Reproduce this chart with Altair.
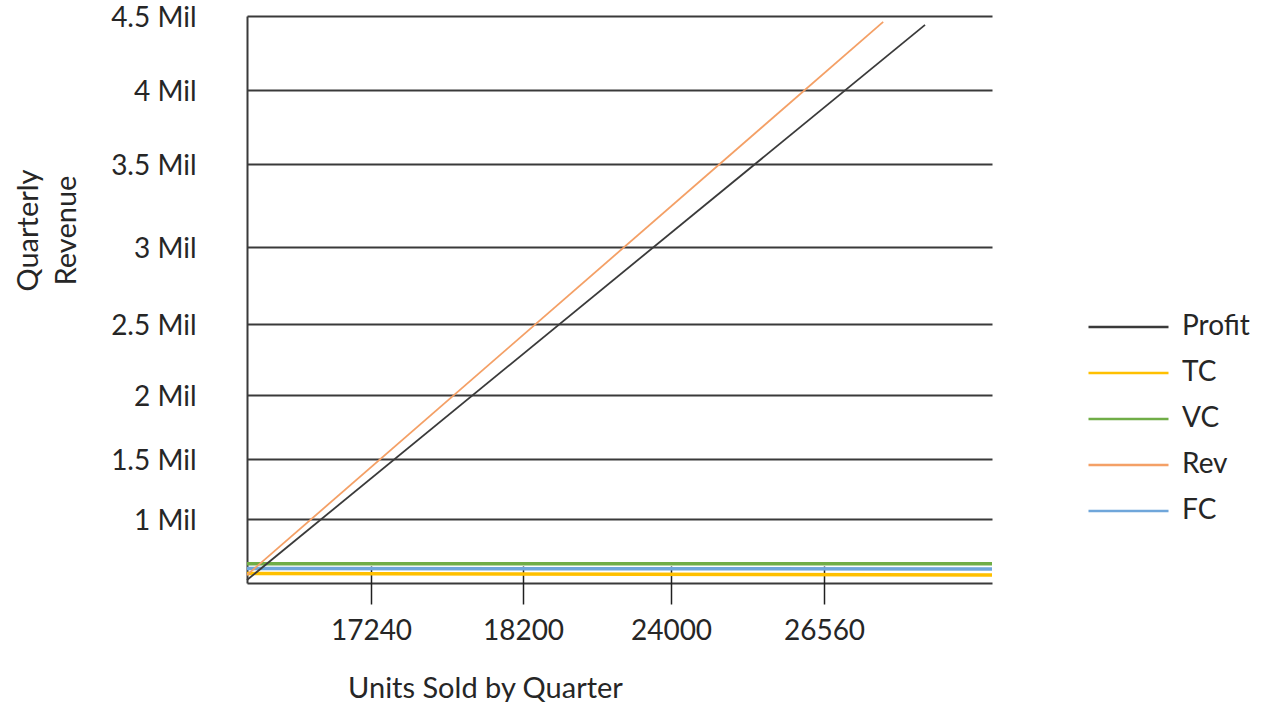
import altair as alt
import pandas as pd

# ---- data ----
unit_ticks = [17240, 18200, 24000, 26560]
unit_edges = [16460, 29370]          # left / right ends of the plotted units range
revenue_ticks = [0, 1000000, 1500000, 2000000, 2500000, 3000000, 3500000, 4000000, 4500000]

series_order = ["Profit", "TC", "VC", "Rev", "FC"]
series_colors = ["#3A3A3A", "#FFC000", "#70AD47", "#F4A066", "#6FA6DA"]

profit_units = [16460, 28250]
profit_values = [47000, 4440000]

tc_units = [16460, 29370]
tc_values = [148000, 125000]

vc_units = [16460, 29370]
vc_values = [300000, 300000]

rev_units = [16460, 27550]
rev_values = [125000, 4460000]

fc_units = [16460, 29370]
fc_values = [227000, 219000]

rows = []
for name, us, vs in [("Profit", profit_units, profit_values),
                     ("TC", tc_units, tc_values),
                     ("VC", vc_units, vc_values),
                     ("Rev", rev_units, rev_values),
                     ("FC", fc_units, fc_values)]:
    for u, v in zip(us, vs):
        rows.append({"series": name, "units": u, "value": v})
df = pd.DataFrame(rows)

FONT = "Lato"
TXT = "#262626"
LBL = 28
TTL = 29

# piecewise scales reproduce the uneven spacing of the drawing
x_scale = alt.Scale(domain=[unit_edges[0]] + unit_ticks + [unit_edges[1]],
                    range=[0, 124, 276, 424, 577, 745], nice=False, zero=False)
y_scale = alt.Scale(domain=revenue_ticks,
                    range=[567, 503, 443, 379, 308, 231, 148, 74, 0],
                    nice=False, zero=False)

color = alt.Color(
    "series:N",
    scale=alt.Scale(domain=series_order, range=series_colors),
    sort=series_order,
    legend=alt.Legend(
        orient="none", legendX=840, legendY=288, title=None,
        symbolType="stroke", symbolSize=6400, symbolStrokeWidth=2.5,
        labelFont=FONT, labelFontSize=LBL, labelColor=TXT, labelOffset=12,
        clipHeight=46, rowPadding=0, padding=0,
    ),
)

x_enc = alt.X(
    "units:Q", scale=x_scale,
    axis=alt.Axis(
        values=unit_ticks, format="d", domain=False, grid=False, labelFlush=False,
        ticks=True, tickSize=38, tickWidth=1.5, tickColor="#202020", offset=-17,
        labelPadding=13, labelFont=FONT, labelFontSize=LBL, labelColor=TXT,
        title="Units Sold by Quarter", titleFont=FONT, titleFontSize=TTL,
        titleFontWeight="normal", titleColor=TXT, titleX=238, titleY=122,
        titleAlign="center", titleBaseline="middle",
    ),
)
y_enc = alt.Y(
    "value:Q", scale=y_scale,
    axis=alt.Axis(
        values=revenue_ticks,
        labelExpr="datum.value == 0 ? '' : (datum.value / 1000000) + ' Mil'",
        domain=True, domainColor="#3A3A3A", domainWidth=2,
        ticks=False, tickSize=0, grid=True, gridColor="#3A3A3A", gridWidth=2,
        labelPadding=51, labelFont=FONT, labelFontSize=LBL, labelColor=TXT,
        labelAlign="right", labelBaseline="middle", labelOffset=2,
        title=["Quarterly", "Revenue"], titleFont=FONT, titleFontSize=TTL,
        titleFontWeight="normal", titleColor=TXT, titleAngle=270,
        titleX=-219, titleY=214, titleAlign="center", titleBaseline="middle",
        titleLineHeight=38,
    ),
)

base = alt.Chart(df)
flat = base.mark_line(strokeWidth=3.5).encode(x=x_enc, y=y_enc, color=color).transform_filter(
    "datum.series == 'TC' || datum.series == 'VC' || datum.series == 'FC'")
diag = base.mark_line(strokeWidth=1.8).encode(x=x_enc, y=y_enc, color=color).transform_filter(
    "datum.series == 'Profit' || datum.series == 'Rev'")

chart = alt.layer(flat, diag).properties(
    width=745, height=567,
    autosize=alt.AutoSizeParams(type="none"),
    padding={"left": 247, "top": 16, "right": 277, "bottom": 119},
    background="white",
).configure_view(stroke=None)

chart.save("out.html", embed_options={"renderer": "svg", "actions": False})
